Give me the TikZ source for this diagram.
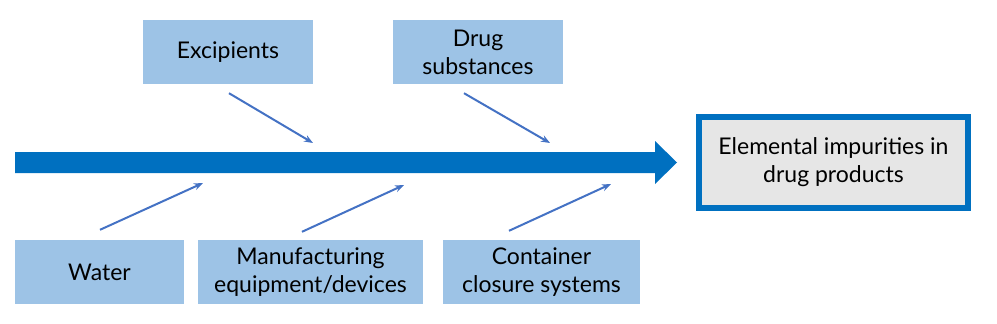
\documentclass[tikz,border=0pt]{standalone}
\usepackage{fontspec}
\setmainfont{Lato}
\usetikzlibrary{arrows.meta}
\definecolor{boxblue}{HTML}{9DC3E6}
\definecolor{shaftblue}{HTML}{0070C0}
\definecolor{connblue}{HTML}{4472C4}
\definecolor{outfill}{HTML}{E6E6E6}
\tikzset{
  cause/.style={fill=boxblue, draw=none, minimum height=64pt, inner sep=2pt, align=center, font=\fontsize{23}{28}\selectfont, text=black},
  conn/.style={draw=connblue, line width=2pt, -{Stealth[length=9pt,width=7pt]}},
}
\begin{document}
\begin{tikzpicture}[x=1pt,y=-1pt]
\useasboundingbox (0,0) rectangle (997,324);
\node[cause, minimum width=170pt] (exc) at (228,52) {Excipients};
\node[cause, minimum width=170pt] (drug) at (478,52) {Drug\\substances};
\node[cause, minimum width=169pt] (water) at (99.5,272) {Water};
\node[cause, minimum width=225pt] (manu) at (310.5,272) {Manufacturing\\equipment/devices};
\node[cause, minimum width=197pt] (cont) at (541.5,272) {Container\\closure systems};
\node[draw=shaftblue, line width=6pt, fill=outfill, minimum width=269pt, minimum height=91pt, align=center, font=\fontsize{23}{28}\selectfont] (out) at (833.5,162.5) {Elemental impurities in\\drug products};
\fill[shaftblue] (15,152) -- (655,152) -- (655,141) -- (677,162.5) -- (655,184) -- (655,173) -- (15,173) -- cycle;
\coordinate (t1) at (313,143);
\coordinate (t2) at (550,143);
\coordinate (t3) at (203,183);
\coordinate (t4) at (404,185);
\coordinate (t5) at (611,184);
\draw[conn] ([xshift=1pt,yshift=-9pt]exc.south) -- (t1);
\draw[conn] ([xshift=-14pt,yshift=-9pt]drug.south) -- (t2);
\draw[conn] ([xshift=0.5pt,yshift=10pt]water.north) -- (t3);
\draw[conn] ([xshift=-8.5pt,yshift=8pt]manu.north) -- (t4);
\draw[conn] ([xshift=-32.5pt,yshift=9pt]cont.north) -- (t5);
\end{tikzpicture}
\end{document}
